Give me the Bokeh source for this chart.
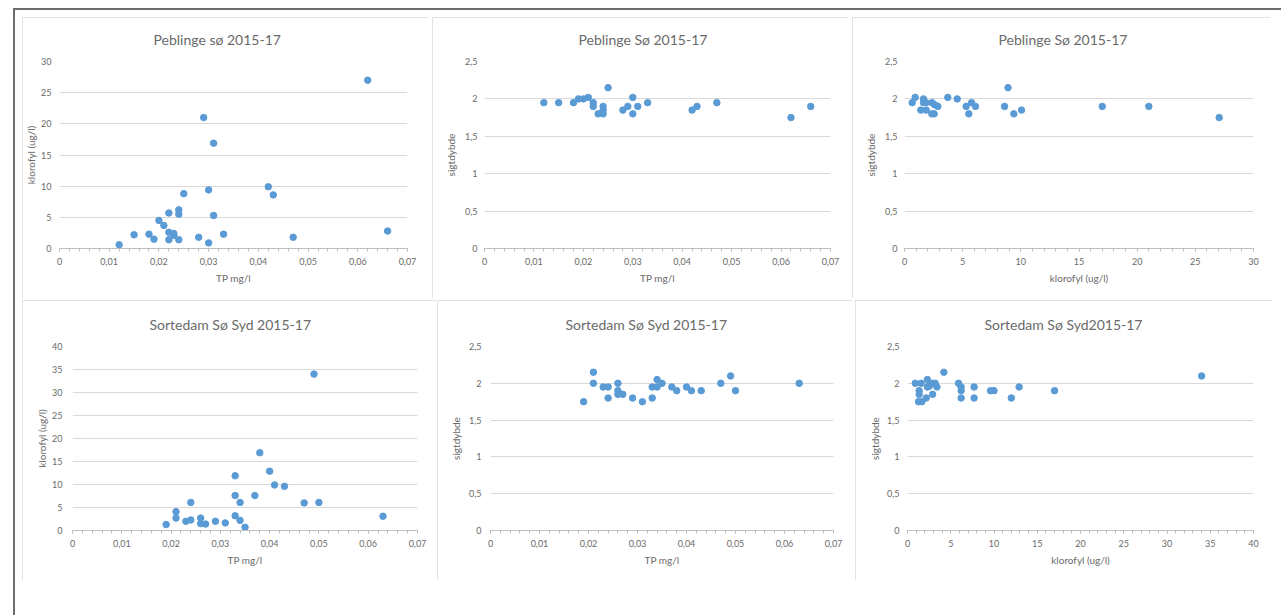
from bokeh.plotting import figure
from bokeh.layouts import row, column
from bokeh.models import Range1d, SingleIntervalTicker, CustomJSTickFormatter, Spacer
from bokeh.embed import file_html
from bokeh.resources import INLINE

# ---------------- data ----------------
p1_tp = [0.012, 0.015, 0.018, 0.019, 0.020, 0.021, 0.022, 0.022, 0.022, 0.023, 0.023,
         0.024, 0.024, 0.024, 0.025, 0.028, 0.029, 0.030, 0.030, 0.031, 0.031, 0.033,
         0.042, 0.043, 0.047, 0.062, 0.066]
p1_chl = [0.6, 2.2, 2.3, 1.5, 4.5, 3.7, 5.7, 2.6, 1.4, 2.4, 2.1,
          6.2, 5.5, 1.4, 8.8, 1.8, 21.0, 9.4, 0.9, 16.9, 5.3, 2.3,
          9.9, 8.6, 1.8, 27.0, 2.8]

p2_tp = [0.012, 0.015, 0.018, 0.019, 0.020, 0.021, 0.022, 0.022, 0.023, 0.024, 0.024,
         0.024, 0.025, 0.028, 0.029, 0.030, 0.030, 0.031, 0.033, 0.042, 0.043, 0.047,
         0.062, 0.066]
p2_secchi = [1.95, 1.95, 1.95, 2.0, 2.0, 2.02, 1.95, 1.9, 1.8, 1.9, 1.85,
             1.8, 2.15, 1.85, 1.9, 2.02, 1.8, 1.9, 1.95, 1.85, 1.9, 1.95,
             1.75, 1.9]

p3_chl = [0.66, 0.92, 1.4, 1.63, 1.63, 1.86, 1.86, 2.38, 2.35, 2.55, 2.6, 2.87,
          3.72, 4.53, 5.3, 5.53, 5.76, 6.1, 8.6, 8.9, 9.4, 10.06, 17.0, 21.0, 27.05]
p3_secchi = [1.95, 2.02, 1.85, 2.0, 1.95, 1.85, 1.95, 1.95, 1.8, 1.8, 1.92, 1.9,
             2.02, 2.0, 1.9, 1.8, 1.95, 1.9, 1.9, 2.15, 1.8, 1.85, 1.9, 1.9, 1.75]

p4_tp = [0.019, 0.021, 0.021, 0.023, 0.024, 0.024, 0.026, 0.026, 0.027, 0.029, 0.031,
         0.033, 0.033, 0.033, 0.034, 0.034, 0.035, 0.037, 0.038, 0.040, 0.041, 0.043,
         0.047, 0.049, 0.050, 0.063]
p4_chl = [1.3, 2.7, 4.1, 2.0, 2.3, 6.1, 2.7, 1.5, 1.4, 2.0, 1.65,
          11.9, 7.6, 3.2, 6.1, 2.2, 0.7, 7.6, 16.9, 12.9, 9.9, 9.6,
          6.0, 34.0, 6.1, 3.1]

p5_tp = [0.019, 0.021, 0.021, 0.023, 0.024, 0.024, 0.026, 0.026, 0.026, 0.027, 0.029,
         0.031, 0.033, 0.033, 0.034, 0.034, 0.035, 0.037, 0.038, 0.040, 0.041, 0.043,
         0.047, 0.049, 0.050, 0.063]
p5_secchi = [1.75, 2.15, 2.0, 1.95, 1.95, 1.8, 2.0, 1.9, 1.85, 1.85, 1.8,
             1.75, 1.95, 1.8, 2.05, 1.95, 2.0, 1.95, 1.9, 1.95, 1.9, 1.9,
             2.0, 2.1, 1.9, 2.0]

p6_chl = [0.9, 1.35, 1.35, 1.27, 1.66, 1.58, 2.16, 2.3, 2.3, 2.5, 2.9, 2.9, 3.2, 3.4,
          4.2, 5.9, 6.2, 6.2, 6.2, 7.7, 7.7, 9.6, 10.0, 12.0, 12.9, 17.0, 34.0]
p6_secchi = [2.0, 1.9, 1.85, 1.75, 1.75, 2.0, 1.8, 2.05, 1.95, 1.96, 1.85, 2.0, 2.0, 1.95,
             2.15, 2.0, 1.95, 1.9, 1.8, 1.95, 1.8, 1.9, 1.9, 1.8, 1.95, 1.9, 2.1]

titles = ["Peblinge sø 2015-17", "Peblinge Sø 2015-17", "Peblinge Sø 2015-17",
          "Sortedam Sø Syd 2015-17", "Sortedam Sø Syd 2015-17", "Sortedam Sø Syd2015-17"]
label_tp = "TP mg/l"
label_chl = "klorofyl (ug/l)"
label_secchi = "sigtdybde"

FONT = "Lato"
TXT = "#6a6a6a"
DOT = "#5b9bd5"

fmt_code = "return (Math.round(tick*1000)/1000).toString().replace('.', ',');"


def make(title, xs, ys, xmax, ymax, xstep, ystep, xlabel, ylabel,
         w, h, ml, mr, mt, mb, toff, tstand, ylab_std, ytick_std):
    p = figure(width=w, height=h, x_range=Range1d(0, xmax), y_range=Range1d(0, ymax),
               output_backend="svg", toolbar_location=None,
               min_border_left=ml, min_border_right=mr, min_border_top=mt, min_border_bottom=mb,
               background_fill_color="white", border_fill_color="white",
               outline_line_color=None, title=title)
    p.styles = {"outline": "1px solid #d9d9d9", "outline-offset": "-1px"}
    p.title.align = "left"
    p.title.offset = toff
    p.title.vertical_align = "middle"
    p.title.text_font = FONT
    p.title.text_font_size = "14px"
    p.title.text_font_style = "normal"
    p.title.text_color = TXT
    p.title.standoff = tstand

    p.xaxis.ticker = SingleIntervalTicker(interval=xstep, num_minor_ticks=5)
    p.yaxis.ticker = SingleIntervalTicker(interval=ystep, num_minor_ticks=0)
    p.xaxis.formatter = CustomJSTickFormatter(code=fmt_code)
    p.yaxis.formatter = CustomJSTickFormatter(code=fmt_code)

    for ax in (p.xaxis[0], p.yaxis[0]):
        ax.major_label_text_font = FONT
        ax.major_label_text_font_size = "9px"
        ax.major_label_text_color = TXT
        ax.axis_label_text_font = FONT
        ax.axis_label_text_font_size = "10px"
        ax.axis_label_text_font_style = "normal"
        ax.axis_label_text_color = TXT

    xa = p.xaxis[0]
    xa.axis_label = xlabel
    xa.axis_line_color = "#bfbfbf"
    xa.major_tick_line_color = "#bfbfbf"
    xa.minor_tick_line_color = "#bfbfbf"
    xa.major_tick_in = 0
    xa.major_tick_out = 3
    xa.minor_tick_in = 0
    xa.minor_tick_out = 3
    xa.major_label_standoff = 6
    xa.axis_label_standoff = 4

    ya = p.yaxis[0]
    ya.axis_label = ylabel
    ya.axis_line_color = None
    ya.major_tick_line_color = None
    ya.minor_tick_line_color = None
    ya.major_tick_out = 0
    ya.major_tick_in = 0
    ya.minor_tick_out = 0
    ya.minor_tick_in = 0
    ya.major_label_standoff = ytick_std
    ya.axis_label_standoff = ylab_std

    p.xgrid.grid_line_color = None
    p.ygrid.grid_line_color = "#d9d9d9"
    p.ygrid.grid_line_width = 1

    p.scatter(xs, ys, size=6.5, marker="circle", fill_color=DOT, line_color=DOT)
    return p


f1 = make(titles[0], p1_tp, p1_chl, 0.07, 30, 0.01, 5, label_tp, label_chl,
          406, 281, 37, 21, 44, 50, 94, 25, 1, 8)
f2 = make(titles[1], p2_tp, p2_secchi, 0.07, 2.5, 0.01, 0.5, label_tp, label_secchi,
          416, 281, 52, 18, 44, 50, 94, 25, 5, 7)
f3 = make(titles[2], p3_chl, p3_secchi, 30, 2.5, 5, 0.5, label_chl, label_secchi,
          418, 281, 52, 17, 44, 50, 94, 25, 5, 7)
f4 = make(titles[3], p4_tp, p4_chl, 0.07, 40, 0.01, 5, label_tp, label_chl,
          414, 280, 50, 19, 45, 49, 77, 25, 1, 10)
f5 = make(titles[4], p5_tp, p5_secchi, 0.07, 2.5, 0.01, 0.5, label_tp, label_secchi,
          415, 280, 53, 19, 46, 49, 75, 26, 4, 9)
f6 = make(titles[5], p6_chl, p6_secchi, 40, 2.5, 5, 0.5, label_chl, label_secchi,
          417, 280, 52, 19, 45, 50, 77, 25, 3, 8)

DARK = "#6e6e6e"


def sp(w, h, bg=None):
    s = Spacer(width=w, height=h)
    if bg:
        s.styles = {"background-color": bg}
    return s


content = column(
    sp(1250, 7),
    row(f1, sp(4, 281), f2, sp(4, 281), f3),
    sp(1250, 2),
    row(f4, sp(1, 280), f5, sp(3, 280), f6),
    spacing=0,
)

root = column(
    sp(1281, 8),
    row(sp(13, 2), sp(1268, 2, DARK), spacing=0),
    row(sp(13, 605), sp(2, 605, DARK), sp(7, 605), content, spacing=0),
    spacing=0,
)
root.styles = {"background-color": "white"}

with open("out.html", "w") as fh:
    fh.write(file_html(root, INLINE))
